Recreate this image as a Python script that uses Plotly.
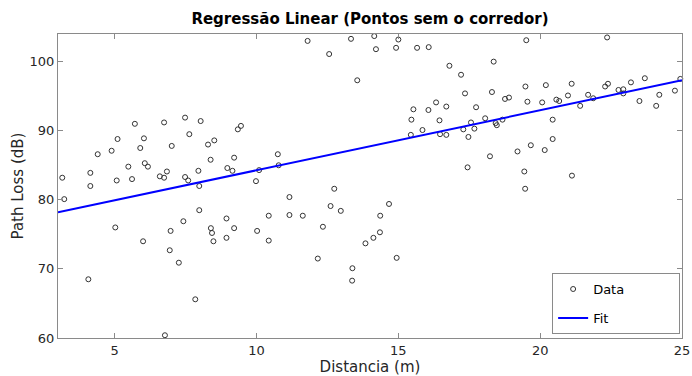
import plotly.graph_objects as go

# Distance (m) and Path Loss (dB)
distance = [5.71, 6.74, 7.48, 8.03, 5.10, 6.03, 7.63, 8.51, 5.90, 7.01, 8.29, 4.40, 4.89, 8.38,
            5.48, 6.06, 6.17, 6.84, 7.95, 3.15, 4.14, 6.59, 6.74, 7.48, 7.59, 5.07, 5.61, 4.14,
            7.98, 3.22, 7.98, 7.42, 5.02, 6.97, 8.39, 8.43, 8.48, 6.00, 6.94, 7.26, 4.07, 7.84,
            6.77, 11.80, 13.33, 12.56, 13.55, 9.34, 9.45, 9.21, 8.97, 9.15, 10.75, 10.78, 10.09,
            9.98, 12.74, 11.16, 12.61, 12.97, 10.43, 11.16, 11.63, 8.94, 9.21, 8.94, 10.02, 10.43,
            12.34, 12.16, 13.38, 13.37, 14.15, 15.00, 14.21, 14.92, 15.66, 16.07, 16.80, 18.36,
            17.21, 17.35, 18.30, 18.76, 18.90, 16.33, 15.53, 16.06, 16.69, 17.74, 15.46, 16.45,
            18.06, 17.56, 18.43, 18.47, 18.67, 15.85, 17.29, 17.68, 15.44, 16.47, 16.69, 17.47,
            19.20, 18.23, 17.44, 14.67, 14.36, 14.35, 13.84, 14.12, 14.94, 19.51, 22.36, 19.48,
            20.20, 21.11, 22.29, 22.39, 22.76, 22.93, 22.93, 23.20, 23.69, 24.94, 24.75, 24.20,
            23.50, 24.09, 19.55, 20.07, 20.57, 20.67, 20.98, 21.69, 21.87, 21.41, 20.44, 20.44,
            19.67, 20.16, 19.44, 21.12, 19.47]
path_loss = [91.0, 91.2, 91.9, 91.4, 88.8, 88.9, 89.5, 88.6, 87.5, 87.8, 88.0, 86.6, 87.1, 85.8,
             84.8, 85.3, 84.8, 84.1, 84.2, 83.2, 83.9, 83.4, 83.2, 83.3, 82.8, 82.8, 83.0, 82.0,
             82.0, 80.1, 78.5, 76.9, 76.0, 75.5, 75.9, 75.2, 74.0, 74.0, 72.7, 70.9, 68.5, 65.6,
             60.4, 103.0, 103.3, 101.1, 97.3, 90.2, 90.7, 86.1, 84.6, 84.2, 86.6, 85.0, 84.3,
             82.7, 81.6, 80.4, 79.1, 78.4, 77.7, 77.8, 77.7, 77.3, 75.9, 74.5, 75.5, 74.1,
             76.1, 71.5, 70.1, 68.3, 103.7, 103.2, 101.8, 102.0, 102.0, 102.1, 99.4, 100.0,
             98.1, 95.4, 95.6, 94.6, 94.8, 94.1, 93.1, 93.0, 93.5, 93.4, 91.6, 91.5,
             91.8, 91.2, 91.1, 90.8, 91.6, 90.1, 90.2, 90.3, 89.4, 89.5, 89.4, 89.1,
             87.0, 86.3, 84.7, 79.4, 77.7, 75.3, 73.7, 74.5, 71.6, 103.1, 103.5, 96.4,
             96.6, 96.8, 96.4, 96.8, 95.9, 96.0, 95.4, 97.0, 97.6, 97.5, 95.8, 95.2,
             94.3, 93.6, 94.2, 94.1, 94.5, 94.3, 95.1, 95.2, 94.7, 93.6, 91.6, 88.8,
             87.9, 87.2, 84.1, 83.5, 81.6]

# Linear fit (endpoints of the fitted line)
fit_distance = [3.0, 25.0]
fit_path_loss = [78.2, 97.3]

x_ticks = [5, 10, 15, 20, 25]
y_ticks = [60, 70, 80, 90, 100]

font = "DejaVu Sans"
fig = go.Figure()
fig.add_trace(go.Scatter(
    x=distance, y=path_loss, mode="markers",
    name="Data" + "\u00a0" * 12,
    marker=dict(symbol="circle-open", size=5, color="#333333", line=dict(width=1)),
    legendgroup="a", cliponaxis=False))
fig.add_trace(go.Scatter(
    x=fit_distance, y=fit_path_loss, mode="lines", name="Fit",
    line=dict(color="#0000ff", width=2), legendgroup="b"))

axis_common = dict(
    showgrid=False, zeroline=False, showline=True, linecolor="#8a8a8a", linewidth=1,
    mirror="ticks", ticks="inside", ticklen=5, tickcolor="#8a8a8a", automargin=False,
    tickfont=dict(family=font, size=13, color="#262626"),
)
fig.update_xaxes(range=[3, 25], tickvals=x_ticks,
                 title=dict(text="Distancia (m)", font=dict(family=font, size=15, color="#262626"), standoff=2),
                 **axis_common)
fig.update_yaxes(range=[60, 104], tickvals=y_ticks,
                 title=dict(text="Path Loss (dB)", font=dict(family=font, size=15, color="#262626"), standoff=2),
                 **axis_common)

fig.update_layout(
    width=692, height=376,
    margin=dict(l=58, r=10, t=34, b=38),
    paper_bgcolor="white", plot_bgcolor="white",
    title=dict(text="<b>Regressão Linear (Pontos sem o corredor)</b>", x=0.5, xanchor="center",
               xref="paper", y=0.95, yanchor="middle", automargin=False,
               font=dict(family=font, size=15, color="#000000")),
    showlegend=True,
    legend=dict(x=0.997, y=0.013, xanchor="right", yanchor="bottom",
                bordercolor="#8a8a8a", borderwidth=1, bgcolor="white",
                font=dict(family=font, size=13, color="#000000"),
                traceorder="grouped", tracegroupgap=9, itemwidth=30),
)

fig.write_html("out.html", config={"displayModeBar": False},
               post_script="document.body.style.margin='0';")
